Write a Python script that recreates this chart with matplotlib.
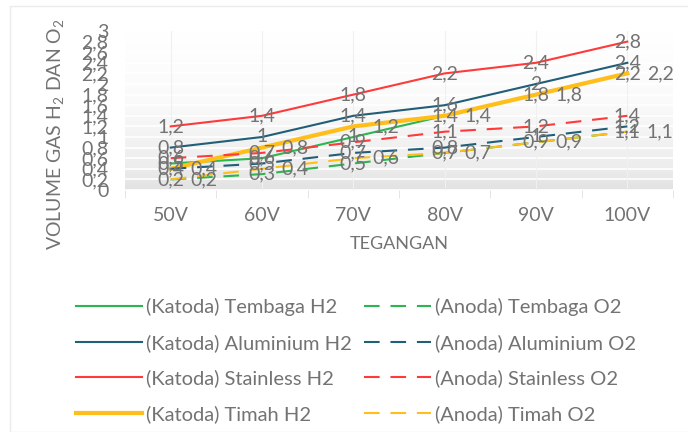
import numpy as np
import matplotlib
matplotlib.use("Agg")
import matplotlib.pyplot as plt
from matplotlib.colors import LinearSegmentedColormap
from matplotlib.patches import Rectangle

plt.rcParams["font.family"] = ["Lato", "DejaVu Sans"]
plt.rcParams["mathtext.fontset"] = "custom"
plt.rcParams["mathtext.rm"] = "Lato"

categories = ["50V", "60V", "70V", "80V", "90V", "100V"]

tembaga_h2 = [0.5, 0.6, 1.0, 1.4, 1.8, 2.2]
aluminium_h2 = [0.8, 1.0, 1.4, 1.6, 2.0, 2.4]
stainless_h2 = [1.2, 1.4, 1.8, 2.2, 2.4, 2.8]
timah_h2 = [0.4, 0.8, 1.2, 1.4, 1.8, 2.2]
tembaga_o2 = [0.2, 0.3, 0.5, 0.7, 0.9, 1.1]
aluminium_o2 = [0.4, 0.5, 0.7, 0.8, 1.0, 1.2]
stainless_o2 = [0.6, 0.7, 0.9, 1.1, 1.2, 1.4]
timah_o2 = [0.2, 0.4, 0.6, 0.7, 0.9, 1.1]

GREEN = "#2BB64F"
BLUE = "#215E78"
RED = "#FF3A3A"
YELLOW = "#FFBE1A"
GREY = "#737373"

# (label, values, colour, dashed, width, label placement)
series = [
    ("(Katoda) Tembaga H2", tembaga_h2, GREEN, False, 1.5, "c"),
    ("(Katoda) Aluminium H2", aluminium_h2, BLUE, False, 1.5, "c"),
    ("(Katoda) Stainless H2", stainless_h2, RED, False, 1.5, "c"),
    ("(Katoda) Timah H2", timah_h2, YELLOW, False, 3.0, "r"),
    ("(Anoda) Tembaga O2", tembaga_o2, GREEN, True, 1.5, "c"),
    ("(Anoda) Aluminium O2", aluminium_o2, BLUE, True, 1.5, "c"),
    ("(Anoda) Stainless O2", stainless_o2, RED, True, 1.5, "c"),
    ("(Anoda) Timah O2", timah_o2, YELLOW, True, 1.5, "r"),
]

fig = plt.figure(figsize=(6.88, 4.32), dpi=100)
fig.patches.append(Rectangle((10 / 688, 0.0), 1.2, 1 - 6 / 432, transform=fig.transFigure,
                             facecolor="none", edgecolor="#EBEBEB", lw=1))
ax = fig.add_axes([125 / 688, 1 - 190 / 432, 548 / 688, 159 / 432])

x = np.arange(len(categories))
ax.set_xlim(-0.5, len(categories) - 0.5)
ax.set_ylim(0, 3)

# gradient plot-area fill, white at top, grey at the bottom
cmap = LinearSegmentedColormap.from_list("bg", [(0, "#FFFFFF"), (0.45, "#FAFAFA"),
                                                (0.85, "#EDEDED"), (1, "#E2E2E2")])
grad = np.linspace(0, 1, 256).reshape(-1, 1)
ax.imshow(grad, cmap=cmap, extent=[-0.5, len(categories) - 0.5, 0, 3], aspect="auto",
          origin="upper", zorder=0)

yt = np.round(np.arange(0, 3.01, 0.2), 1)
for v in yt:
    ax.axhline(v, color="white", lw=1.2, zorder=1)
for xi in x:
    ax.axvline(xi, color="#F0F0F0", lw=0.8, zorder=1)

for label, vals, col, dashed, lw, pos in series:
    ls = (0, (7.5, 5.2)) if dashed else "-"
    ax.plot(x, vals, color=col, lw=lw, ls=ls, label=label, zorder=3)
    for xi, v in zip(x, vals):
        txt = ("%g" % v).replace(".", ",")
        if pos == "r":
            ax.annotate(txt, (xi, v), xytext=(14, 0), textcoords="offset points",
                        ha="left", va="center", fontsize=14, color=GREY, zorder=4)
        else:
            ax.annotate(txt, (xi, v), ha="center", va="center", fontsize=14,
                        color=GREY, zorder=4)

ax.set_xticks(x)
ax.set_xticklabels(categories, fontsize=14, color=GREY)
ax.set_xticks(np.arange(-0.5, len(categories), 1), minor=True)
ax.tick_params(axis="x", which="major", length=0, pad=12)
ax.tick_params(axis="x", which="minor", length=6, color="#E0E0E0")
ax.set_yticks(yt)
ax.set_yticklabels([("%g" % v).replace(".", ",") for v in yt], fontsize=14, color=GREY)
ax.tick_params(axis="y", length=0, pad=12)
for s in ax.spines.values():
    s.set_visible(False)

ax.set_xlabel("TEGANGAN", fontsize=13, color=GREY, labelpad=9)
ax.set_ylabel(r"VOLUME GAS H$_\mathregular{2}$ DAN O$_\mathregular{2}$", fontsize=14,
              color=GREY)
ax.yaxis.set_label_coords(-0.106, 0.35)

fig.legend(loc="upper left", bbox_to_anchor=(76 / 688, 1 - 298 / 432), ncol=2,
           frameon=False, fontsize=14.5, handlelength=3.3, handletextpad=0.2,
           columnspacing=0.6, labelspacing=0.88, borderpad=0, borderaxespad=0,
           labelcolor=GREY)

fig.savefig("out.png", dpi=100)
